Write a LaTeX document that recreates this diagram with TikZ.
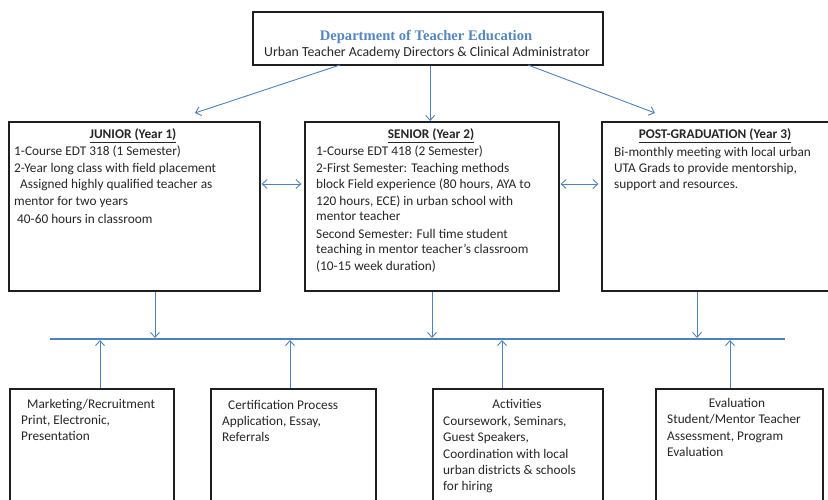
\documentclass[tikz,border=0pt]{standalone}
\usepackage{fontspec}
\setmainfont{Carlito}
\newfontfamily\titlefont{Liberation Serif}
\usetikzlibrary{arrows.meta}
\definecolor{arrowblue}{RGB}{79,129,189}
\definecolor{titleblue}{RGB}{84,134,192}
\begin{document}
\begin{tikzpicture}[x=1pt,y=-1pt,
  box/.style={draw=black!88,line width=2.4pt,inner sep=0pt,anchor=north west},
  txt/.style={inner sep=0pt,anchor=base west,text=black!85,font=\fontsize{13.3}{16.5}\selectfont},
  ctxt/.style={inner sep=0pt,anchor=base,text=black!85,font=\fontsize{13.3}{16.5}\selectfont},
  conn/.style={draw=arrowblue,line width=0.9pt,-{Straight Barb[length=5pt,width=9pt]}},
  dconn/.style={draw=arrowblue,line width=0.9pt,{Straight Barb[length=5pt,width=9pt]}-{Straight Barb[length=5pt,width=9pt]}},
  bus/.style={draw=arrowblue,line width=1.3pt}]
\useasboundingbox (0,0) rectangle (828,500);
\begin{scope}
\clip (0,0) rectangle (828,500);
% top box
\node[box,minimum width=350pt,minimum height=53pt] (top) at (252,11) {};
\node[inner sep=0pt,anchor=base,font=\titlefont\bfseries\fontsize{14.6}{16}\selectfont,text=titleblue] (toptitle) at (426,41) {Department of Teacher Education};
\node[ctxt,font=\fontsize{13.8}{16.5}\selectfont] (topsub) at (427,57) {Urban Teacher Academy Directors \& Clinical Administrator};
% year boxes
\node[box,minimum width=251pt,minimum height=169pt] (junior) at (8,121) {};
\node[box,minimum width=254pt,minimum height=169pt] (senior) at (304,121) {};
\node[box,minimum width=240pt,minimum height=169pt] (post) at (601,121) {};
% junior text
\node[ctxt] (jh) at (133,139) {\textbf{\underline{JUNIOR (Year 1)}}};
\node[txt] (j1) at (14,156) {1-Course EDT 318 (1 Semester)};
\node[txt] (j2) at (14,173) {2-Year long class with field placement};
\node[txt] (j3) at (14,189) {\ \ Assigned highly qualified teacher as};
\node[txt] (j4) at (14,206) {mentor for two years};
\node[txt] (j5) at (14,223) {\ 40-60 hours in classroom};
% senior text
\node[ctxt] (sh) at (431,139) {\textbf{\underline{SENIOR (Year 2)}}};
\node[txt] (s1) at (316,156) {1-Course EDT 418 (2 Semester)};
\node[txt] (s2) at (316,173) {2-First Semester: Teaching methods};
\node[txt] (s3) at (316,189) {block Field experience (80 hours, AYA to};
\node[txt] (s4) at (316,205) {120 hours, ECE) in urban school with};
\node[txt] (s5) at (316,221) {mentor teacher};
\node[txt] (s6) at (316,238) {Second Semester: Full time student};
\node[txt] (s7) at (316,254) {teaching in mentor teacher’s classroom};
\node[txt] (s8) at (316,270) {(10-15 week duration)};
% post text
\node[ctxt] (ph) at (715,139) {\textbf{\underline{POST-GRADUATION (Year 3)}}};
\node[txt] (p1) at (614,157) {Bi-monthly meeting with local urban};
\node[txt] (p2) at (614,173) {UTA Grads to provide mentorship,};
\node[txt] (p3) at (614,189) {support and resources.};
% bottom boxes
\node[box,minimum width=164pt,minimum height=130pt] (b1) at (9,388) {};
\node[box,minimum width=165pt,minimum height=130pt] (b2) at (210,388) {};
\node[box,minimum width=170pt,minimum height=130pt] (b3) at (432,388) {};
\node[box,minimum width=167pt,minimum height=130pt] (b4) at (655,388) {};
\node[txt] (b1a) at (21,408) {\ \ Marketing/Recruitment};
\node[txt] (b1b) at (21,424) {Print, Electronic,};
\node[txt] (b1c) at (21,440) {Presentation};
\node[txt] (b2a) at (222,409) {\ \ Certification Process};
\node[txt] (b2b) at (222,425) {Application, Essay,};
\node[txt] (b2c) at (222,441) {Referrals};
\node[ctxt] (b3a) at (517,408) {Activities};
\node[txt] (b3b) at (443,425) {Coursework, Seminars,};
\node[txt] (b3c) at (443,441) {Guest Speakers,};
\node[txt] (b3d) at (443,458) {Coordination with local};
\node[txt] (b3e) at (443,474) {urban districts \& schools};
\node[txt] (b3f) at (443,490) {for hiring};
\node[ctxt] (b4a) at (737,407) {Evaluation};
\node[txt] (b4b) at (667,423) {Student/Mentor Teacher};
\node[txt] (b4c) at (667,440) {Assessment, Program};
\node[txt] (b4d) at (667,456) {Evaluation};
\end{scope}
% bus line
\coordinate (busL) at (50,339);
\coordinate (busR) at (785,339);
\draw[bus] (busL) -- (busR);
% top arrows
\draw[conn] (340,65) -- (195,113);
\draw[conn] (top.south) ++(2,0) coordinate (tc) -- (tc |- junior.north);
\draw[conn] (528,65) -- (655,113);
% horizontal double arrows
\draw[dconn] (261.5,184) -- (301.5,184);
\draw[dconn] (560.5,184) -- (598.5,184);
% down arrows to bus
\coordinate (d1) at (155,338);
\coordinate (d2) at (432,338);
\coordinate (d3) at (697,338);
\draw[conn] (d1 |- junior.south) -- (d1);
\draw[conn] (d2 |- senior.south) -- (d2);
\draw[conn] (d3 |- post.south) -- (d3);
% up arrows from bottom boxes
\coordinate (u1) at (100,340);
\coordinate (u2) at (290,340);
\coordinate (u3) at (502,340);
\coordinate (u4) at (730,340);
\draw[conn] (u1 |- b1.north) -- (u1);
\draw[conn] (u2 |- b2.north) -- (u2);
\draw[conn] (u3 |- b3.north) -- (u3);
\draw[conn] (u4 |- b4.north) -- (u4);
\end{tikzpicture}
\end{document}
